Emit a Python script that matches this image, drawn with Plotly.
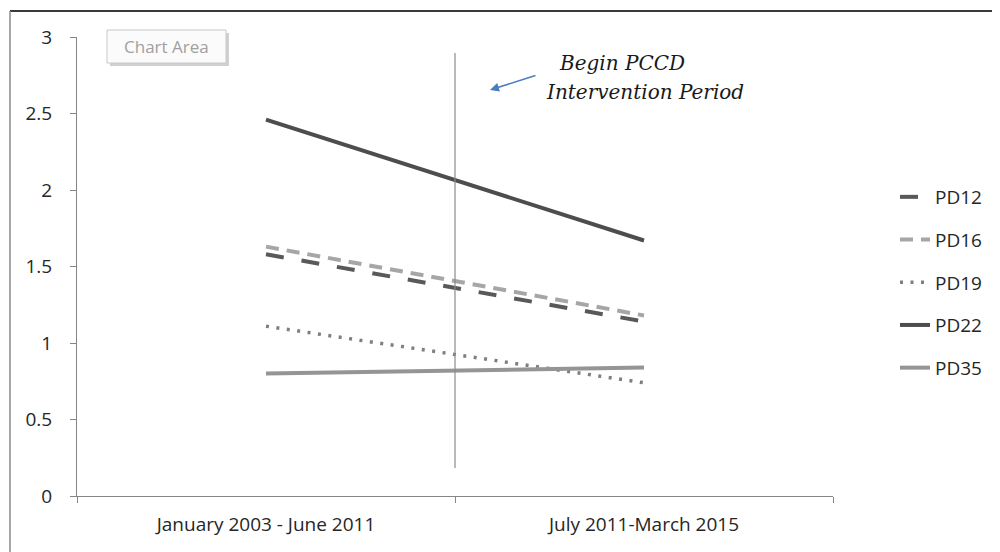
import plotly.graph_objects as go

# ---- data ----
categories = ["January 2003 - June 2011", "July 2011-March 2015"]
series_names = ["PD12", "PD16", "PD19", "PD22", "PD35"]
pd12 = [1.58, 1.14]
pd16 = [1.63, 1.18]
pd19 = [1.11, 0.74]
pd22 = [2.46, 1.67]
pd35 = [0.80, 0.84]
y_ticks = [0, 0.5, 1, 1.5, 2, 2.5, 3]
y_tick_labels = ["0", "0.5", "1", "1.5", "2", "2.5", "3"]

styles = {
    "PD12": dict(color="#595959", dash="18px,18px", width=4),
    "PD16": dict(color="#a6a6a6", dash="13px,8px", width=4),
    "PD19": dict(color="#7f7f7f", dash="3px,7.5px", width=3.5),
    "PD22": dict(color="#4d4d4d", dash="solid", width=4),
    "PD35": dict(color="#959595", dash="solid", width=4),
}
values = {"PD12": pd12, "PD16": pd16, "PD19": pd19, "PD22": pd22, "PD35": pd35}

FONT = "Open Sans, sans-serif"
SERIF = "DejaVu Serif, Liberation Serif, serif"

fig = go.Figure()
for name in series_names:
    fig.add_trace(go.Scatter(
        x=categories, y=values[name], name=name, mode="lines",
        line=styles[name], legendgroup=name,
    ))

# page offset (browser body margin)
OFF = 8
# plot area in page pixels
L, R, T, B = 77, 833, 37, 496
W, H = 1000 - OFF, 552 - OFF


def px(x):
    return (x - L) / (R - L)


def py(y):
    return (B - y) / (B - T)


fig.update_layout(
    width=W, height=H,
    margin=dict(l=L - OFF, r=(W + OFF) - R, t=T - OFF, b=(H + OFF) - B, pad=0),
    paper_bgcolor="white", plot_bgcolor="white",
    font=dict(family=FONT, size=19, color="#262626"),
    showlegend=True,
    legend=dict(x=px(895), y=py(178), xanchor="left", yanchor="top",
                font=dict(family=FONT, size=19, color="#262626"),
                tracegroupgap=15, bgcolor="rgba(0,0,0,0)"),
    xaxis=dict(type="category", range=[-0.5, 1.5], showgrid=False,
               showline=True, linecolor="#868686", linewidth=1,
               ticks="outside", tickson="boundaries", ticklen=6,
               tickcolor="#868686", tickfont=dict(size=19),
               ticklabelstandoff=11, zeroline=False),
    yaxis=dict(range=[0, 3], tickvals=y_ticks, ticktext=y_tick_labels,
               showgrid=False, showline=True, linecolor="#868686",
               linewidth=1, ticks="outside", ticklen=6, tickcolor="#868686",
               tickfont=dict(size=19), ticklabelstandoff=14, zeroline=False),
)

# vertical intervention line
fig.add_shape(type="line", xref="x", yref="y", x0=0.5, x1=0.5,
              y0=(B - 468) / (B - T) * 3, y1=(B - 53) / (B - T) * 3,
              line=dict(color="#8c8c8c", width=1.2))

# arrow
fig.add_annotation(xref="paper", yref="paper", x=px(490), y=py(90),
                   ax=47, ay=-15, showarrow=True, arrowhead=2, arrowsize=1.2,
                   arrowwidth=1.5, arrowcolor="#4a7ebb", text="")
fig.add_annotation(xref="paper", yref="paper", x=px(622), y=py(63),
                   text="<i>Begin PCCD</i>", showarrow=False,
                   font=dict(family=SERIF, size=20, color="#1a1a1a"),
                   xanchor="center", yanchor="middle")
fig.add_annotation(xref="paper", yref="paper", x=px(645), y=py(92),
                   text="<i>Intervention Period</i>", showarrow=False,
                   font=dict(family=SERIF, size=20, color="#1a1a1a"),
                   xanchor="center", yanchor="middle")

# "Chart Area" tooltip with shadow
fig.add_shape(type="rect", xref="paper", yref="paper",
              x0=px(110), x1=px(229), y0=py(66), y1=py(33),
              line=dict(width=0), fillcolor="rgba(120,120,120,0.35)")
fig.add_shape(type="rect", xref="paper", yref="paper",
              x0=px(107), x1=px(226), y0=py(63), y1=py(30),
              line=dict(color="#c8c8c8", width=1), fillcolor="#fbfbfb")
fig.add_annotation(xref="paper", yref="paper", x=px(166.5), y=py(46.5),
                   text="Chart Area", showarrow=False,
                   xanchor="center", yanchor="middle",
                   font=dict(family=FONT, size=17, color="#a0a0a0"))

# outer chart border (top + left)
fig.add_shape(type="line", xref="paper", yref="paper",
              x0=px(10), x1=px(1000), y0=py(11), y1=py(11),
              line=dict(color="#3a3a3a", width=2))
fig.add_shape(type="line", xref="paper", yref="paper",
              x0=px(10), x1=px(10), y0=py(11), y1=py(552),
              line=dict(color="#8a8a8a", width=1.5))

fig.write_html("out.html")
